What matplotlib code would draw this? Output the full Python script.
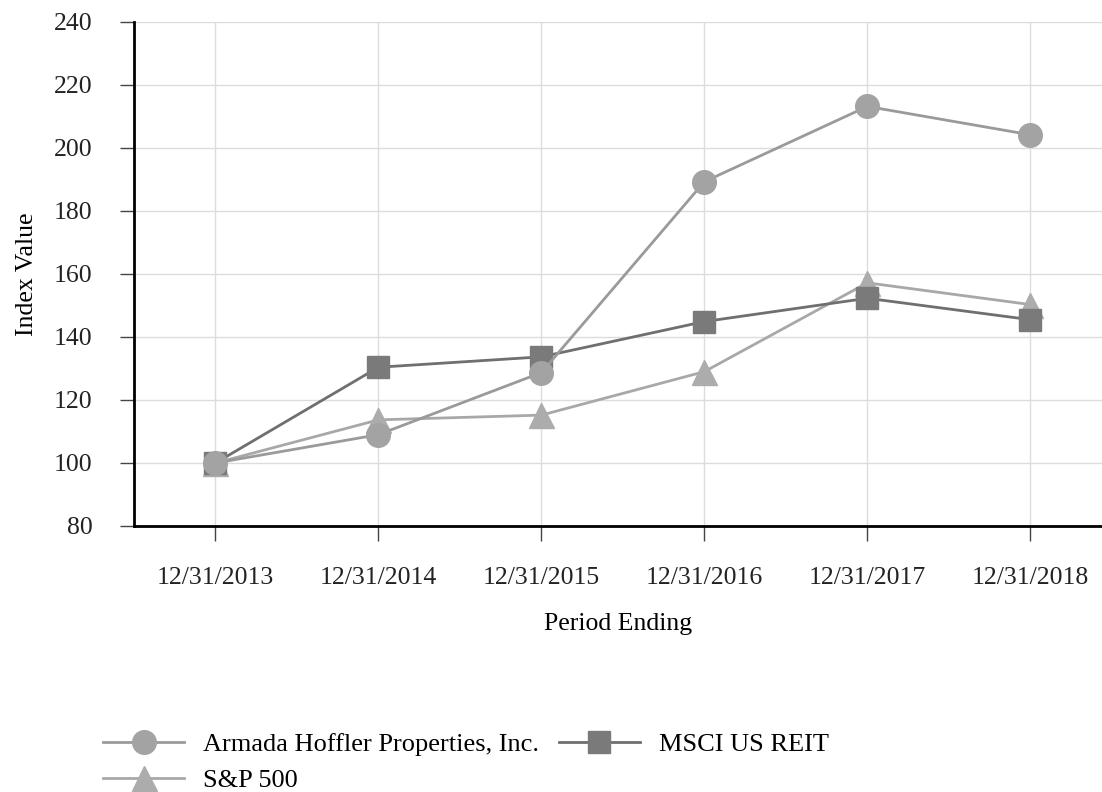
import matplotlib
matplotlib.use("Agg")
import matplotlib.pyplot as plt

# data
periods = ["12/31/2013", "12/31/2014", "12/31/2015", "12/31/2016", "12/31/2017", "12/31/2018"]
armada = [100.0, 109.0, 128.7, 189.3, 213.2, 204.2]
msci_reit = [100.0, 130.4, 133.7, 144.9, 152.3, 145.5]
sp500 = [100.0, 113.7, 115.2, 129.0, 157.2, 150.3]

plt.rcParams['font.family'] = ['Liberation Serif', 'DejaVu Serif']

fig = plt.figure(figsize=(11.02, 7.92), dpi=100)
ax = fig.add_axes([134 / 1102, 1 - 526 / 792, 1 - 134 / 1102, (526 - 22) / 792])

x = list(range(len(periods)))
h_arm, = ax.plot(x, armada, color='#9a9a9a', lw=2, marker='o', ms=17,
                 mfc='#a3a3a3', mec='#a3a3a3', label='Armada Hoffler Properties, Inc.', zorder=3)
h_msci, = ax.plot(x, msci_reit, color='#6f6f6f', lw=2, marker='s', ms=16,
                  mfc='#7a7a7a', mec='#7a7a7a', label='MSCI US REIT', zorder=2)
h_sp, = ax.plot(x, sp500, color='#a8a8a8', lw=2, marker='^', ms=18,
                mfc='#acacac', mec='#acacac', label='S&P 500', zorder=1)

ax.set_xlim(-0.5, 5.44)
ax.set_ylim(80, 240)
ax.set_yticks(range(80, 241, 20))
ax.set_xticks(x)
ax.set_xticklabels(periods)

ax.grid(True, color='#dcdcdc', lw=1)
ax.set_axisbelow(True)
for s in ['top', 'right']:
    ax.spines[s].set_visible(False)
for s in ['left', 'bottom']:
    ax.spines[s].set_linewidth(2)
    ax.spines[s].set_color('black')

ax.tick_params(axis='both', labelsize=18.5, colors='#222222')
ax.tick_params(axis='y', length=10, width=1, pad=20, color='#444444')
ax.tick_params(axis='x', length=10.5, width=1, pad=19, color='#444444')

ax.set_ylabel('Index Value', fontsize=18.5, labelpad=11)
ax.set_xlabel('Period Ending', fontsize=18.5, labelpad=17)

fig.legend([h_arm, h_sp, h_msci],
           ['Armada Hoffler Properties, Inc.', 'S&P 500', 'MSCI US REIT'],
           ncol=2, loc='upper left', bbox_to_anchor=(103 / 1102, 1 - 733 / 792),
           frameon=False, fontsize=19, handlelength=3.07, handletextpad=0.72,
           columnspacing=0.75, labelspacing=0.45, borderpad=0, borderaxespad=0)

fig.savefig('out.png', dpi=100)
